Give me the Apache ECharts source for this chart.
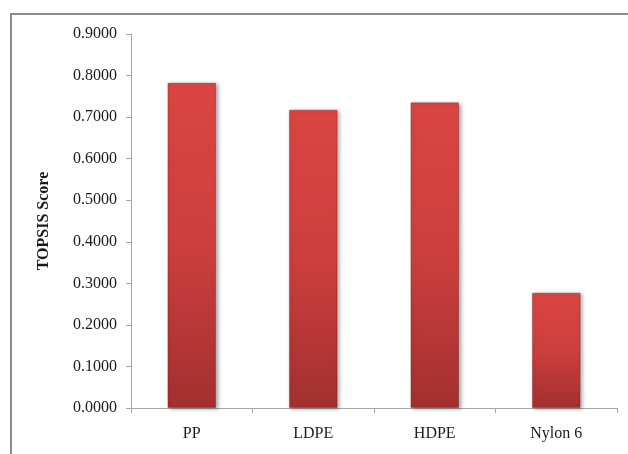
<!DOCTYPE html>
<html>
<head>
<meta charset="utf-8">
<script src="https://cdn.jsdelivr.net/npm/echarts@6/dist/echarts.min.js"></script>
<style>
html,body{margin:0;padding:0;background:#fff;}
#chart{width:628px;height:454px;}
</style>
</head>
<body>
<div id="chart"></div>
<script>
var categories = ['PP', 'LDPE', 'HDPE', 'Nylon 6'];
var scores = [0.7827, 0.7178, 0.7355, 0.2775];
var yAxisTitle = 'TOPSIS Score';

var chart = echarts.init(document.getElementById('chart'));
var serif = '"Liberation Serif", "Times New Roman", serif';
chart.setOption({
  animation: false,
  backgroundColor: '#ffffff',
  graphic: [{
    type: 'rect',
    shape: { x: 11, y: 14, width: 700, height: 600 },
    style: { fill: 'none', stroke: '#8c8c8c', lineWidth: 2 },
    z: 0
  }],
  grid: { left: 131, right: 11, top: 34, bottom: 46, containLabel: false },
  xAxis: {
    type: 'category',
    data: categories,
    boundaryGap: true,
    axisLine: { lineStyle: { color: '#a6a6a6', width: 1 } },
    axisTick: { show: true, length: 5, alignWithLabel: false, lineStyle: { color: '#a6a6a6' } },
    axisLabel: { fontFamily: serif, fontSize: 16, color: '#1a1a1a', margin: 18 }
  },
  yAxis: {
    type: 'value',
    min: 0,
    max: 0.9,
    interval: 0.1,
    name: yAxisTitle,
    nameLocation: 'middle',
    nameGap: 79,
    nameRotate: 90,
    nameTextStyle: { fontFamily: serif, fontSize: 16, fontWeight: 'bold', color: '#1a1a1a' },
    axisLine: { show: true, lineStyle: { color: '#a6a6a6', width: 1 } },
    axisTick: { show: true, length: 5, lineStyle: { color: '#a6a6a6' } },
    splitLine: { show: false },
    axisLabel: {
      fontFamily: serif, fontSize: 16, color: '#1a1a1a', margin: 14,
      formatter: function (v) { return v.toFixed(4); }
    }
  },
  series: [{
    type: 'bar',
    data: scores,
    barWidth: '40%',
    itemStyle: {
      color: {
        type: 'linear', x: 0, y: 0, x2: 0, y2: 1,
        colorStops: [
          { offset: 0, color: '#db4542' },
          { offset: 0.5, color: '#cc3f3d' },
          { offset: 1, color: '#a33030' }
        ]
      },
      borderColor: 'rgba(120,20,20,0.35)',
      borderWidth: 1,
      shadowColor: 'rgba(0,0,0,0.35)',
      shadowBlur: 4,
      shadowOffsetX: 2,
      shadowOffsetY: 1
    }
  }]
});
</script>
</body>
</html>
